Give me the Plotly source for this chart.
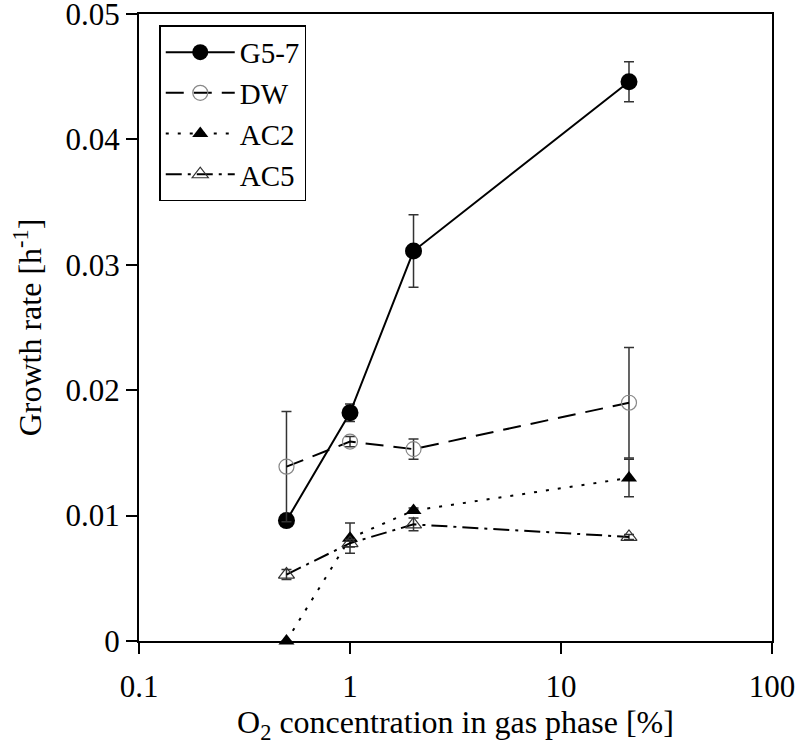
import plotly.graph_objects as go

o2 = [0.5, 1, 2, 21]
g57 = [0.0096, 0.0182, 0.0311, 0.0446]
g57_err = [0.0003, 0.0007, 0.0029, 0.0016]
dw = [0.0139, 0.0159, 0.0153, 0.0190]
dw_err = [0.0044, 0.0004, 0.0008, 0.0044]
ac2 = [0.0, 0.0082, 0.0104, 0.0130]
ac2_err = [0.0, 0.0012, 0.0002, 0.0015]
ac5 = [0.0053, 0.0078, 0.0093, 0.0083]
ac5_err = [0.0004, 0.0003, 0.0005, 0.0002]

x_ticks = [0.1, 1, 10, 100]
x_ticktext = ["0.1", "1", "10", "100"]
y_ticks = [0, 0.01, 0.02, 0.03, 0.04, 0.05]
y_ticktext = ["0", "0.01", "0.02", "0.03", "0.04", "0.05"]

FONT = "serif"
ERR = dict(type="data", visible=True, color="#333333", thickness=1.5, width=5)

fig = go.Figure()
fig.add_trace(go.Scatter(
    x=o2, y=g57, name="G5-7", mode="lines+markers",
    line=dict(color="black", width=2, dash="solid"),
    marker=dict(symbol="circle", size=17, color="black"),
    error_y=dict(array=g57_err, **ERR), cliponaxis=False))
fig.add_trace(go.Scatter(
    x=o2, y=dw, name="DW", mode="lines+markers",
    line=dict(color="black", width=2, dash="18px,10px"),
    marker=dict(symbol="circle-open", size=15, color="#888888", line=dict(width=1.2, color="#888888")),
    error_y=dict(array=dw_err, **ERR), cliponaxis=False))
fig.add_trace(go.Scatter(
    x=o2, y=ac2, name="AC2", mode="lines+markers",
    line=dict(color="black", width=2, dash="3px,9px"),
    marker=dict(symbol="triangle-up", size=14, color="black"),
    error_y=dict(array=ac2_err, **ERR), cliponaxis=False))
fig.add_trace(go.Scatter(
    x=o2, y=ac5, name="AC5", mode="lines+markers",
    line=dict(color="black", width=2, dash="16px,6px,3px,6px"),
    marker=dict(symbol="triangle-up-open", size=14, color="#333333", line=dict(width=1.2, color="#333333")),
    error_y=dict(array=ac5_err, **ERR), cliponaxis=False))

fig.update_layout(
    width=798, height=755,
    margin=dict(l=139, r=26, t=14, b=114, autoexpand=False),
    paper_bgcolor="white", plot_bgcolor="white",
    font=dict(family=FONT, size=31, color="black"),
    showlegend=True,
    legend=dict(x=0.032, y=0.982, xanchor="left", yanchor="top",
                bgcolor="white", bordercolor="black", borderwidth=1.5,
                font=dict(family=FONT, size=29), itemwidth=69,
                tracegroupgap=0, itemsizing="trace"),
    xaxis=dict(type="log", range=[-1, 2], tickvals=x_ticks, ticktext=x_ticktext,
               showline=True, linecolor="black", linewidth=2, mirror=True,
               ticks="outside", ticklen=11, tickwidth=2, tickcolor="black",
               showgrid=False, zeroline=False, automargin=False,
               ticklabeloverflow="allow", ticklabelstandoff=6,
               tickfont=dict(family=FONT, size=31),
               title=dict(text="O<sub>2</sub> concentration in gas phase [%]",
                          font=dict(family=FONT, size=32), standoff=6)),
    yaxis=dict(range=[0, 0.05], tickvals=y_ticks, ticktext=y_ticktext,
               showline=True, linecolor="black", linewidth=2, mirror=True,
               ticks="outside", ticklen=11, tickwidth=2, tickcolor="black",
               showgrid=False, zeroline=False, automargin=False,
               ticklabeloverflow="allow",
               tickfont=dict(family=FONT, size=31),
               title=dict(text="Growth rate [h<sup>-1</sup>]",
                          font=dict(family=FONT, size=32), standoff=14)),
)

fig.write_html("out.html", config={"displayModeBar": False},
               post_script="document.body.style.margin='0';document.body.style.padding='0';")
